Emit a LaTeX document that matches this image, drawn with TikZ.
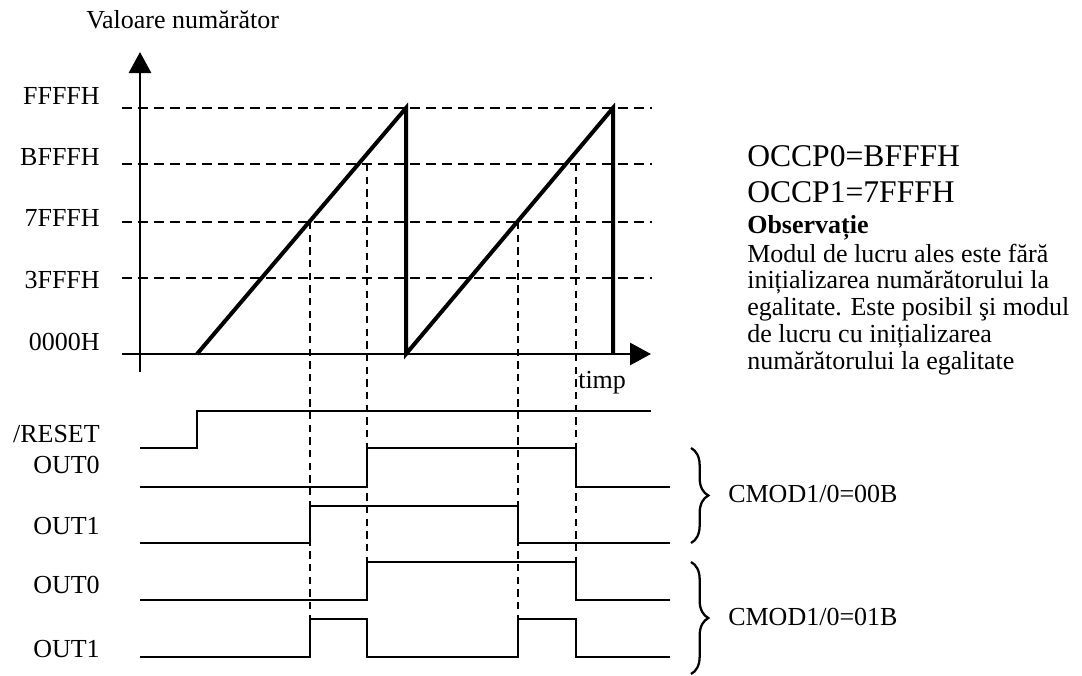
\documentclass[tikz,border=0pt]{standalone}
\usepackage{fontspec}
\setmainfont{Liberation Serif}
\usetikzlibrary{arrows.meta,decorations.pathreplacing}
\begin{document}
\begin{tikzpicture}[x=0.75pt,y=-0.75pt,
  txt/.style={font=\fontsize{19.5}{20}\selectfont, inner sep=0pt},
  bigtxt/.style={font=\fontsize{23.7}{24}\selectfont, inner sep=0pt},
  axis/.style={line width=2.2pt, -{Triangle[length=15.75pt,width=16.5pt]}},
  ramp/.style={line width=3pt, line join=miter},
  level/.style={line width=2.1pt, dash pattern=on 7.5pt off 4.5pt},
  guide/.style={line width=2.1pt, dash pattern=on 5.5pt off 4pt},
  signal/.style={line width=2.1pt, line join=miter},
  grp/.style={line width=1.7pt, decorate, decoration={brace, amplitude=13pt}}]
\useasboundingbox (0,0) rectangle (1082,675);

% axes
\coordinate (ybot) at (140,372);
\coordinate (ytop) at (140,52);
\coordinate (xleft) at (122,354);
\coordinate (xright) at (651,354);
\draw[axis] (ybot) -- (ytop);
\draw[axis] (xleft) -- (xright);
\node[txt, anchor=base west] (ylabel) at (86,28) {Valoare numărător};
\node[txt, anchor=base west] (xlabel) at (578,388) {timp};

% counter levels
\foreach \lv/\y/\b in {FFFFH/108/104, BFFFH/164/165, 7FFFH/222/226, 3FFFH/278/288}{
  \draw[level] (122,\y) -- (652,\y);
  \node[txt, anchor=base east] (lv\lv) at (100,\b) {\lv};
}
\node[txt, anchor=base east] (lv0000H) at (100,350) {0000H};

% sawtooth counter value
\coordinate (r0) at (197,354);
\coordinate (p1) at (406,108);
\coordinate (r1) at (406,354);
\coordinate (p2) at (613,108);
\coordinate (r2) at (613,354);
\draw[ramp] (r0) -- (p1) -- (r1) -- (p2) -- (r2);

% compare-match guide lines
\draw[guide] (310,222) -- (310,619);
\draw[guide] (367,164) -- (367,600);
\draw[guide] (518,222) -- (518,619);
\draw[guide] (576,164) -- (576,600);

% waveforms
\node[txt, anchor=base east] (nreset) at (100,442) {/RESET};
\node[txt, anchor=base east] (nouta) at (100,473) {OUT0};
\node[txt, anchor=base east] (noutb) at (100,534) {OUT1};
\node[txt, anchor=base east] (noutc) at (100,593) {OUT0};
\node[txt, anchor=base east] (noutd) at (100,657) {OUT1};

\draw[signal] (140,448) -- (197,448) -- (197,411) -- (651,411);
\draw[signal] (140,487) -- (367,487) -- (367,448) -- (576,448) -- (576,487) -- (670,487);
\draw[signal] (140,543) -- (310,543) -- (310,506) -- (518,506) -- (518,543) -- (670,543);
\draw[signal] (140,600) -- (367,600) -- (367,562) -- (576,562) -- (576,600) -- (670,600);
\draw[signal] (140,657) -- (310,657) -- (310,619) -- (367,619) -- (367,657)
  -- (518,657) -- (518,619) -- (576,619) -- (576,657) -- (670,657);

% mode braces
\coordinate (ba1) at (691,448);
\coordinate (ba2) at (691,543);
\coordinate (bb1) at (691,562);
\coordinate (bb2) at (691,674);
\draw[grp] (ba1) -- (ba2);
\draw[grp] (bb1) -- (bb2);
\node[txt, anchor=base west] (mode0) at (728,502) {CMOD1/0=00B};
\node[txt, anchor=base west] (mode1) at (728,625) {CMOD1/0=01B};

% compare register values and remark
\node[bigtxt, anchor=base west] (occp0) at (747,166) {OCCP0=BFFFH};
\node[bigtxt, anchor=base west] (occp1) at (747,202) {OCCP1=7FFFH};
\node[txt, anchor=base west, font=\fontsize{19.5}{20}\selectfont\bfseries] (obs) at (747,233) {Observație};
\node[txt, anchor=base west] (l1) at (747,262) {Modul de lucru ales este fără};
\node[txt, anchor=base west] (l2) at (747,288) {inițializarea numărătorului la};
\node[txt, anchor=base west] (l3) at (747,315) {egalitate. Este posibil şi modul};
\node[txt, anchor=base west] (l4) at (747,342) {de lucru cu inițializarea};
\node[txt, anchor=base west] (l5) at (747,369) {numărătorului la egalitate};
\end{tikzpicture}
\end{document}
